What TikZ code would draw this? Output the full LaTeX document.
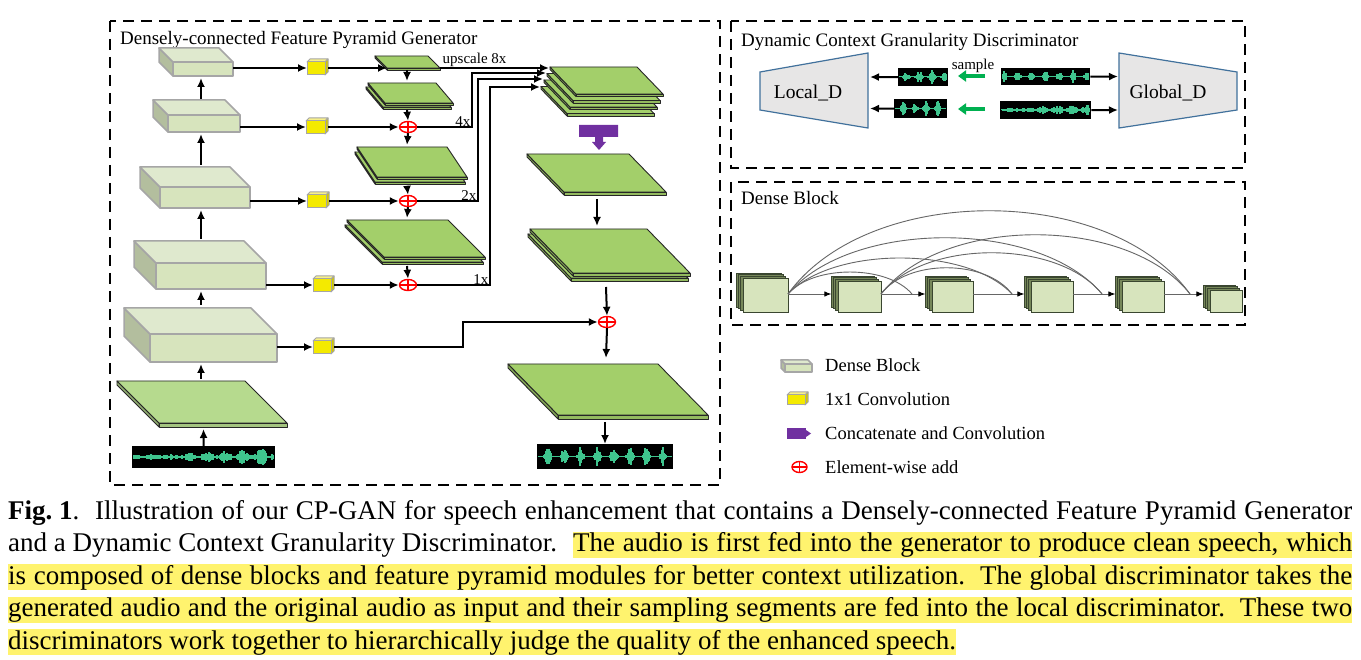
\documentclass[tikz,border=0pt]{standalone}
\usepackage{fontspec}
\setmainfont{Liberation Serif}
\usetikzlibrary{arrows.meta,shapes.geometric}
\definecolor{dbfront}{HTML}{D7E4BD}
\definecolor{dbtop}{HTML}{DFE9CE}
\definecolor{dbside}{HTML}{B3BE9E}
\definecolor{dbline}{HTML}{A6A6A6}
\definecolor{pgreen}{HTML}{A3CF6A}
\definecolor{pgreenL}{HTML}{B6DA8E}
\definecolor{yfront}{HTML}{F4EA00}
\definecolor{ytop}{HTML}{F7F08A}
\definecolor{yside}{HTML}{D2C900}
\definecolor{purp}{HTML}{7030A0}
\definecolor{sgreen}{HTML}{00B050}
\definecolor{trapf}{HTML}{E7E6E6}
\definecolor{trapb}{HTML}{41719C}
\definecolor{wavec}{HTML}{3FC58E}
\definecolor{hl}{HTML}{FFF36E}
\definecolor{dcback}{HTML}{76875A}
\definecolor{dcline}{HTML}{3A4630}
\newcommand\ttlf{\fontsize{19}{22}\selectfont}
\newcommand\capf{\fontsize{27}{32}\selectfont}
\newcommand\legf{\fontsize{18.5}{22}\selectfont}
\newcommand\smlf{\fontsize{15}{17}\selectfont}
% dense block cuboid: x1,y1,x2,y2,depth
\newcommand\dblock[5]{%
 \filldraw[dbs] (#1,#2) -- (#1-#5,#2-#5) -- (#1-#5,#4-#5) -- (#1,#4) -- cycle;
 \filldraw[dbt] (#1,#2) -- (#1-#5,#2-#5) -- (#3-#5,#2-#5) -- (#3,#2) -- cycle;
 \filldraw[dbf] (#1,#2) rectangle (#3,#4);}
% yellow cube: x,y,w,h,d
\newcommand\ycube[5]{%
 \filldraw[ycb, fill=ytop] (#1,#2) -- (#1+#5,#2-#5) -- (#1+#3+#5,#2-#5) -- (#1+#3,#2) -- cycle;
 \filldraw[ycb, fill=yside] (#1+#3,#2) -- (#1+#3+#5,#2-#5) -- (#1+#3+#5,#2+#4-#5) -- (#1+#3,#2+#4) -- cycle;
 \filldraw[ycb, fill=yfront] (#1,#2) rectangle (#1+#3,#2+#4);}
% plane: x,y,w,dx,dy,t,colour
\newcommand\plane[7]{%
 \filldraw[pl, fill=#7!80!black] (#1,#2) -- (#1+#4,#2+#5) -- (#1+#4,#2+#5+#6) -- (#1,#2+#6) -- cycle;
 \filldraw[pl, fill=#7!90!black] (#1+#4,#2+#5) -- (#1+#4+#3,#2+#5) -- (#1+#4+#3,#2+#5+#6) -- (#1+#4,#2+#5+#6) -- cycle;
 \filldraw[pl, fill=#7] (#1,#2) -- (#1+#3,#2) -- (#1+#3+#4,#2+#5) -- (#1+#4,#2+#5) -- cycle;}
% stacked planes: x,y,w,dx,dy,t,n,sx,sy
\newcommand\splane[9]{%
 \foreach \k in {#7,...,1}{%
  \pgfmathsetmacro\px{#1+(\k-1)*(#8)}\pgfmathsetmacro\py{#2+(\k-1)*(#9)}%
  \plane{\px}{\py}{#3}{#4}{#5}{#6}{pgreen}}}
% waveform: name,x1,y1,x2,y2,seed,envelope
\newcommand\wave[7]{%
 \pgfmathsetmacro\ww{#4-#2}\pgfmathsetmacro\hh{#5-#3}%
 \node[fill=black, inner sep=0pt, minimum width=\ww pt, minimum height=\hh pt, anchor=north west] (#1) at (#2,#3) {};
 \pgfmathsetseed{#6}%
 \pgfmathtruncatemacro\xa{#2+2}\pgfmathtruncatemacro\xb{#4-2}%
 \pgfmathsetmacro\yc{(#3+#5)/2}\pgfmathsetmacro\yh{(#5-#3)/2-2}%
 \foreach \xx in {\xa,...,\xb}{%
   \pgfmathsetmacro\am{max(0.5,\yh*(#7)*(0.3+0.7*rnd))}%
   \draw[wavec, line width=1.05pt] (\xx,\yc-\am) -- (\xx,\yc+\am);}}
% dense-block layer stack: x1,y1,x2,y2
\newcommand\dcub[4]{%
 \foreach \s in {3,2,1}{\filldraw[fill=dcback, draw=dcline, line width=0.7pt] (#1-2.2*\s,#2-1.7*\s) rectangle (#3-2.2*\s,#4-1.7*\s);}
 \filldraw[fill=dbfront, draw=dcline, line width=0.8pt] (#1,#2) rectangle (#3,#4);}
\begin{document}
\begin{tikzpicture}[x=1pt,y=-1pt,
  frame/.style={draw=black, line width=2.6pt, dash pattern=on 11pt off 7pt},
  arr/.style={draw=black, line width=2pt, -{Latex[length=9pt,width=8pt]}},
  dbs/.style={fill=dbside, draw=dbline, line width=1.5pt, line join=round},
  dbt/.style={fill=dbtop, draw=dbline, line width=1.5pt, line join=round},
  dbf/.style={fill=dbfront, draw=dbline, line width=1.5pt, line join=round},
  ycb/.style={draw=black!35, line width=1pt, line join=round},
  pl/.style={draw=black!85, line width=0.9pt, line join=round},
  addn/.style={ellipse, draw=red, line width=1.4pt, fill=white, minimum width=17pt, minimum height=11pt, inner sep=0pt,
    path picture={\draw[red, line width=1.2pt] (path picture bounding box.north) -- (path picture bounding box.south) (path picture bounding box.west) -- (path picture bounding box.east);}},
  trap/.style={fill=trapf, draw=trapb, line width=1.2pt},
  garr/.style={draw=sgreen, line width=4pt, -{Triangle[length=8pt,width=11pt]}},
  darr/.style={draw=black!60, line width=0.9pt, -{Latex[length=7pt,width=5.5pt,color=black]}},
  darc/.style={draw=black!60, line width=0.9pt},
  hlbox/.style={anchor=base west, inner xsep=0pt, inner ysep=0pt, fill=hl, text height=20pt, text depth=6pt}
]
\useasboundingbox (0,0) rectangle (1361,660);
\fill[white] (0,0) rectangle (1361,660);

% ---------------- frames ----------------
\draw[frame] (110,21) rectangle (720,485);
\draw[frame] (731,21) rectangle (1245,168);
\draw[frame] (731,182) rectangle (1245,325);
\node[anchor=base west, inner sep=0pt, font=\ttlf] (gtitle) at (120,45) {Densely-connected Feature Pyramid Generator};
\node[anchor=base west, inner sep=0pt, font=\ttlf] (dtitle) at (741,47) {Dynamic Context Granularity Discriminator};
\node[anchor=base west, inner sep=0pt, font=\ttlf] (btitle) at (741,205) {Dense Block};

% ---------------- generator: encoder ----------------
\dblock{173}{62}{233}{76}{14}
\dblock{168}{115}{240}{132}{15}
\dblock{160}{187}{250}{208}{20}
\dblock{156}{263}{266}{289}{22}
\dblock{150}{334}{277}{362}{26}
\plane{117}{381}{128}{42}{42}{4}{pgreenL}
\wave{win}{132}{446}{275}{468}{11}{0.22+0.78*((\xx-132)/143)*abs(sin(10*\xx))^2}

\coordinate (b1b) at (201,78); \coordinate (b2t) at (201,99);
\coordinate (b2b) at (201,134); \coordinate (b3t) at (201,165);
\coordinate (b3b) at (201,210); \coordinate (b4t) at (201,239);
\coordinate (b4b) at (201,291); \coordinate (b5t) at (201,305);
\coordinate (b5b) at (201,364); \coordinate (ipt) at (201,379);
\coordinate (ipb) at (203.5,429);
\draw[arr] (b2t) -- (b1b);
\draw[arr] (b3t) -- (b2b);
\draw[arr] (b4t) -- (b3b);
\draw[arr] (b5t) -- (b4b);
\draw[arr] (ipt) -- (b5b);
\draw[arr] (win.north) -- (ipb);

% 1x1 convolutions
\ycube{307}{62}{18}{13}{3}
\ycube{306}{121}{19}{13}{3}
\ycube{307}{195}{19}{13}{3}
\ycube{313}{279}{18}{13}{3}
\ycube{313}{341}{18}{13}{3}
\coordinate (c1l) at (307,68); \coordinate (c1r) at (328,68);
\coordinate (c2l) at (306,127); \coordinate (c2r) at (328,127);
\coordinate (c3l) at (307,201); \coordinate (c3r) at (329,201);
\coordinate (c4l) at (313,285); \coordinate (c4r) at (334,285);
\coordinate (c5l) at (313,347); \coordinate (c5r) at (334,347);
\draw[arr] (233,68) -- (c1l);
\draw[arr] (240,127) -- (c2l);
\draw[arr] (250,201) -- (c3l);
\draw[arr] (266,285) -- (c4l);
\draw[arr] (277,347) -- (c5l);

% ---------------- generator: pyramid ----------------
\plane{375}{56}{53}{12}{12}{2}{pgreen}
\splane{368}{83}{68}{17}{20}{2}{2}{-2}{4}
\splane{357}{147}{90}{20}{30}{2}{2}{-2}{5}
\splane{347}{220}{101}{37}{37}{2}{2}{-2}{5}
\node[addn] (a1) at (408,127) {};
\node[addn] (a2) at (408,201) {};
\node[addn] (a3) at (408,285) {};
\coordinate (p1l) at (387,68); \coordinate (p1r) at (440,68);
\draw[arr] (c1r) -- (p1l);
\draw[arr] (c2r) -- (a1.west);
\draw[arr] (c3r) -- (a2.west);
\draw[arr] (c4r) -- (a3.west);
\draw[arr] (407,70) -- (407,81);
\draw[arr] (407,110) -- (a1.north);
\draw[arr] (a1.south) -- (407,145);
\draw[arr] (407,186) -- (a2.north);
\draw[arr] (a2.south) -- (407,218);
\draw[arr] (407,266) -- (a3.north);

% concatenated stack and decoder
\splane{550}{67}{87}{26}{27}{2.5}{4}{-3}{6.5}
\coordinate (k0) at (549,68); \coordinate (k1) at (546,73);
\coordinate (k2) at (543,79); \coordinate (k3) at (540,87);
\draw[arr] (p1r) -- (k0);
\draw[arr] (a1.east) -- (472,127) -- (472,73) -- (k1);
\draw[arr] (a2.east) -- (478,201) -- (478,79) -- (k2);
\draw[arr] (a3.east) -- (490,285) -- (490,87) -- (k3);
\node[anchor=south west, inner sep=0.5pt, font=\smlf] (l8) at (442,67) {upscale 8x};
\node[anchor=south east, inner sep=0.5pt, font=\smlf] (l4) at (471,127) {4x};
\node[anchor=south east, inner sep=0.5pt, font=\smlf] (l2) at (477,201) {2x};
\node[anchor=south east, inner sep=0.5pt, font=\smlf] (l1) at (489,285) {1x};

\fill[purp] (579,125) -- (618,125) -- (618,137) -- (603,137) -- (603,142) -- (606,142) -- (599,150) -- (592,142) -- (595,142) -- (595,137) -- (579,137) -- cycle;
\plane{527}{154}{102}{37}{38}{3}{pgreen}
\splane{530}{229}{117}{43}{44}{3}{2}{-2}{5}
\plane{508}{364}{150}{50}{51}{4}{pgreen}
\node[addn] (a4) at (607,322) {};
\wave{wout}{537}{444}{673}{469}{23}{0.04+0.96*abs(sin(11*\xx))^6}
\draw[arr] (597,199) -- (597,226);
\draw[arr] (606,287) -- (a4.north);
\draw[arr] (a4.south) -- (606,358);
\draw[arr] (605,422) -- (wout.north -| 605,444);
\draw[arr] (c5r) -- (463,347) -- (463,322) -- (a4.west);

% ---------------- discriminator ----------------
\filldraw[trap] (760,72) -- (868,53) -- (868,128) -- (760,110) -- cycle;
\filldraw[trap] (1119,53) -- (1237,72) -- (1237,110) -- (1119,128) -- cycle;
\node[font=\fontsize{19.5}{22}\selectfont] (locd) at (808,93) {Local\_D};
\node[font=\fontsize{19.5}{22}\selectfont] (globd) at (1168,93) {Global\_D};
\wave{wa}{898}{68}{948}{86}{5}{0.05+0.95*abs(sin(14*\xx))^4}
\wave{wb}{894}{99}{947}{118}{7}{0.05+0.95*abs(sin(16*\xx+30))^4}
\wave{wc}{1001}{68}{1090}{85}{9}{0.05+0.95*abs(sin(13*\xx))^6}
\wave{wd}{1000}{101}{1091}{119}{13}{0.2+0.8*((\xx-1000)/91)*abs(sin(12*\xx))^2}
\draw[arr] (wa.west) -- (870,77);
\draw[arr] (wb.west) -- (870,108.5);
\draw[arr] (wc.east) -- (1118,76.5);
\draw[arr] (wd.east) -- (1118,110);
\coordinate (g1s) at (985,76); \coordinate (g1e) at (958,76);
\coordinate (g2s) at (985,109); \coordinate (g2e) at (958,109);
\draw[garr] (g1s) -- (g1e);
\draw[garr] (g2s) -- (g2e);
\node[anchor=base, inner sep=0pt, font=\smlf] (samp) at (973,70) {sample};

% ---------------- dense block ----------------
\dcub{743}{278}{788}{312}
\dcub{838}{281}{881}{312}
\dcub{932}{281}{973}{312}
\dcub{1031}{281}{1073}{312}
\dcub{1122}{281}{1164}{312}
\dcub{1210}{290}{1242}{312}
\coordinate (d1) at (788,294); \coordinate (d2) at (881,294);
\coordinate (d3) at (973,294); \coordinate (d4) at (1073,294);
\coordinate (d5) at (1164,294);
\coordinate (e2) at (831.4,294); \coordinate (e3) at (925.4,294);
\coordinate (e4) at (1024.4,294); \coordinate (e5) at (1115.4,294);
\coordinate (e6) at (1203.4,294);
\draw[darr] (d1) -- (e2);
\draw[darr] (d2) -- (e3);
\draw[darr] (d3) -- (e4);
\draw[darr] (d4) -- (e5);
\draw[darr] (d5) -- (e6);
\coordinate (m3) at (912,294); \coordinate (m4) at (1012,294);
\coordinate (m5) at (1102,294); \coordinate (m6) at (1190,294);
\draw[darc] (d1) .. controls (812.8,264.7) and (887.2,264.7) .. (m3);
\draw[darc] (d1) .. controls (832.8,246) and (967.2,246) .. (m4);
\draw[darc] (d1) .. controls (850.8,219) and (1039.2,219) .. (m5);
\draw[darc] (d1) .. controls (868.4,183) and (1109.6,183) .. (m6);
\draw[darc] (d2) .. controls (907.2,259) and (985.8,259) .. (m4);
\draw[darc] (d2) .. controls (925.2,239) and (1057.8,239) .. (m5);
\draw[darc] (d2) .. controls (942.8,215) and (1128.2,215) .. (m6);

% ---------------- legend ----------------
\dblock{785}{364}{812}{372}{4}
\ycube{787}{395}{18}{10}{3}
\fill[purp] (787,428) rectangle (806,439);
\fill[purp] (806,430) -- (811,433.5) -- (806,437) -- cycle;
\node[addn, minimum width=15pt, minimum height=11pt] (aleg) at (799.5,467) {};
\node[anchor=base west, inner sep=0pt, font=\legf] (lg1) at (825,372) {Dense Block};
\node[anchor=base west, inner sep=0pt, font=\legf] (lg2) at (825,406) {1x1 Convolution};
\node[anchor=base west, inner sep=0pt, font=\legf] (lg3) at (825,439.5) {Concatenate and Convolution};
\node[anchor=base west, inner sep=0pt, font=\legf] (lg4) at (825,473) {Element-wise add};

% ---------------- caption ----------------
\node[anchor=base west, inner sep=0pt] (cap1) at (8,519) {\capf\makebox[1344pt][s]{\textbf{Fig.\kern0.25em1}.\ \ Illustration of our CP-GAN for speech enhancement that contains a Densely-connected Feature Pyramid Generator}};
\node[anchor=base west, inner sep=0pt] (cap2a) at (8,551.5) {\capf and a Dynamic Context Granularity Discriminator.};
\node[hlbox] (cap2b) at (573,551.5) {\capf\makebox[779pt][s]{The audio is first fed into the generator to produce clean speech, which}};
\node[hlbox] (cap3) at (8,584) {\capf\makebox[1344pt][s]{is composed of dense blocks and feature pyramid modules for better context utilization.\ \ The global discriminator takes the}};
\node[hlbox] (cap4) at (8,616.5) {\capf\makebox[1344pt][s]{generated audio and the original audio as input and their sampling segments are fed into the local discriminator.\ \ These two}};
\node[hlbox] (cap5) at (8,649) {\capf discriminators work together to hierarchically judge the quality of the enhanced speech.};
\end{tikzpicture}
\end{document}
